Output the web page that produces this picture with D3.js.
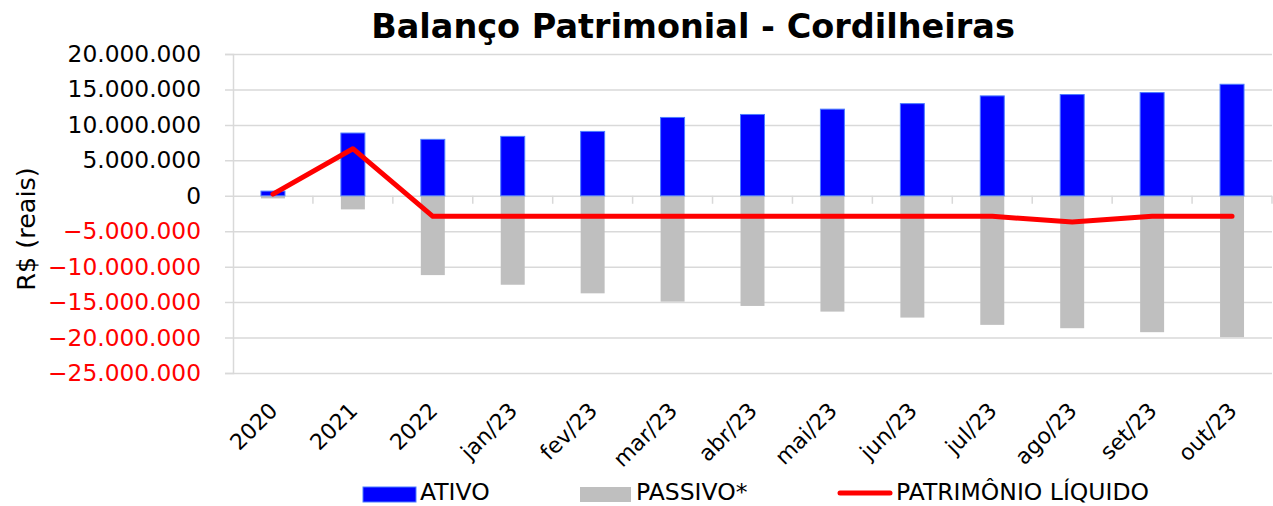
<!DOCTYPE html>
<html>
<head>
<meta charset="utf-8">
<script src="https://cdn.jsdelivr.net/npm/d3@7"></script>
<style>
  body { margin: 0; background: #fff; }
  svg { display: block; font-family: "DejaVu Sans", sans-serif; }
</style>
</head>
<body>
<div id="chart"></div>
<script>
const canvas = { w: 1273, h: 506 };

// data (R$)
const categories = ["2020", "2021", "2022", "jan/23", "fev/23", "mar/23", "abr/23",
  "mai/23", "jun/23", "jul/23", "ago/23", "set/23", "out/23"];
const ativo = [660000, 8850000, 7960000, 8380000, 9080000, 11050000, 11470000,
  12220000, 13000000, 14090000, 14280000, 14560000, 15730000];
const passivo = [-370000, -1920000, -11190000, -12550000, -13760000, -14930000, -15540000,
  -16340000, -17180000, -18210000, -18680000, -19240000, -19940000];
const patrimonio = [240000, 6640000, -2900000, -2900000, -2900000, -2900000, -2900000,
  -2900000, -2900000, -2900000, -3690000, -2900000, -2900000];
const yTicks = [20000000, 15000000, 10000000, 5000000, 0, -5000000, -10000000,
  -15000000, -20000000, -25000000];
const legendItems = ["ATIVO", "PASSIVO*", "PATRIMÔNIO LÍQUIDO"];

const plot = { left: 233, right: 1272, top: 54, bottom: 373 };

const ptBR = d3.formatLocale({ decimal: ",", thousands: ".", grouping: [3], currency: ["R$", ""] });
const fmt = ptBR.format(",.0f");

const svg = d3.select("#chart")
  .append("svg")
  .attr("width", canvas.w)
  .attr("height", canvas.h)
  .attr("viewBox", `0 0 ${canvas.w} ${canvas.h}`);

const xSlot = d3.scaleBand()
  .domain(categories)
  .range([plot.left, plot.right]);

const barW = xSlot.bandwidth() * 0.3;
const cx = c => xSlot(c) + xSlot.bandwidth() / 2;

const y = d3.scaleLinear()
  .domain([-25000000, 20000000])
  .range([plot.bottom, plot.top]);

// gridlines + tick labels
const yAxis = svg.append("g")
  .attr("transform", `translate(${plot.left},0)`)
  .call(d3.axisLeft(y)
    .tickValues(yTicks)
    .tickSize(8)
    .tickPadding(24)
    .tickFormat(fmt));

yAxis.select(".domain").attr("stroke", "#d9d9d9").attr("stroke-width", 1.5);
yAxis.selectAll(".tick line")
  .attr("x2", plot.right - plot.left)
  .attr("x1", -8)
  .attr("stroke", "#d9d9d9")
  .attr("stroke-width", 1.5);
yAxis.selectAll(".tick text")
  .attr("font-size", 23.3)
  .attr("font-family", "DejaVu Sans, sans-serif")
  .attr("fill", d => d < 0 ? "#ff0000" : "#000");

// x axis at zero with ticks at category boundaries
const xAxis = svg.append("g")
  .attr("transform", `translate(0,${y(0)})`);
xAxis.selectAll("line.bound")
  .data(categories)
  .enter()
  .append("line")
  .attr("class", "bound")
  .attr("x1", d => xSlot(d) + xSlot.bandwidth())
  .attr("x2", d => xSlot(d) + xSlot.bandwidth())
  .attr("y1", 0)
  .attr("y2", 8)
  .attr("stroke", "#d9d9d9")
  .attr("stroke-width", 1.5);

// bars
svg.append("g")
  .selectAll("rect")
  .data(categories)
  .enter()
  .append("rect")
  .attr("x", d => cx(d) - barW / 2)
  .attr("width", barW)
  .attr("y", y(0))
  .attr("height", (d, i) => y(passivo[i]) - y(0))
  .attr("fill", "#bfbfbf");

svg.append("g")
  .selectAll("rect")
  .data(categories)
  .enter()
  .append("rect")
  .attr("x", d => cx(d) - barW / 2)
  .attr("width", barW)
  .attr("y", (d, i) => y(ativo[i]))
  .attr("height", (d, i) => y(0) - y(ativo[i]))
  .attr("fill", "#0000ff")
  .attr("stroke", "#4d7cff")
  .attr("stroke-width", 1);

// patrimonio liquido line
const line = d3.line()
  .x((d, i) => cx(categories[i]))
  .y(d => y(d));

svg.append("path")
  .datum(patrimonio)
  .attr("d", line)
  .attr("fill", "none")
  .attr("stroke", "#ff0000")
  .attr("stroke-width", 5)
  .attr("stroke-linejoin", "round")
  .attr("stroke-linecap", "round");

// category labels, rotated
svg.append("g")
  .selectAll("text")
  .data(categories)
  .enter()
  .append("text")
  .attr("transform", d => `translate(${cx(d) + 6},412) rotate(-45)`)
  .attr("text-anchor", "end")
  .attr("font-size", 22)
  .text(d => d);

// y title
svg.append("text")
  .attr("transform", "translate(35,229) rotate(-90)")
  .attr("text-anchor", "middle")
  .attr("font-size", 25.5)
  .text("R$ (reais)");

// title
svg.append("text")
  .attr("x", 693)
  .attr("y", 38)
  .attr("text-anchor", "middle")
  .attr("font-size", 33.5)
  .attr("font-weight", "bold")
  .text("Balanço Patrimonial - Cordilheiras");

// legend
const legend = svg.append("g");
legend.append("rect").attr("x", 363).attr("y", 487).attr("width", 53).attr("height", 15)
  .attr("fill", "#0000ff").attr("stroke", "#4d7cff");
legend.append("rect").attr("x", 580).attr("y", 487).attr("width", 51).attr("height", 15)
  .attr("fill", "#bfbfbf");
legend.append("line").attr("x1", 840).attr("x2", 890).attr("y1", 493).attr("y2", 493)
  .attr("stroke", "#ff0000").attr("stroke-width", 5).attr("stroke-linecap", "round");

legend.selectAll("text")
  .data(legendItems)
  .enter()
  .append("text")
  .attr("x", (d, i) => [420, 636, 896][i])
  .attr("y", 500)
  .attr("font-size", 23.5)
  .text(d => d);
</script>
</body>
</html>
